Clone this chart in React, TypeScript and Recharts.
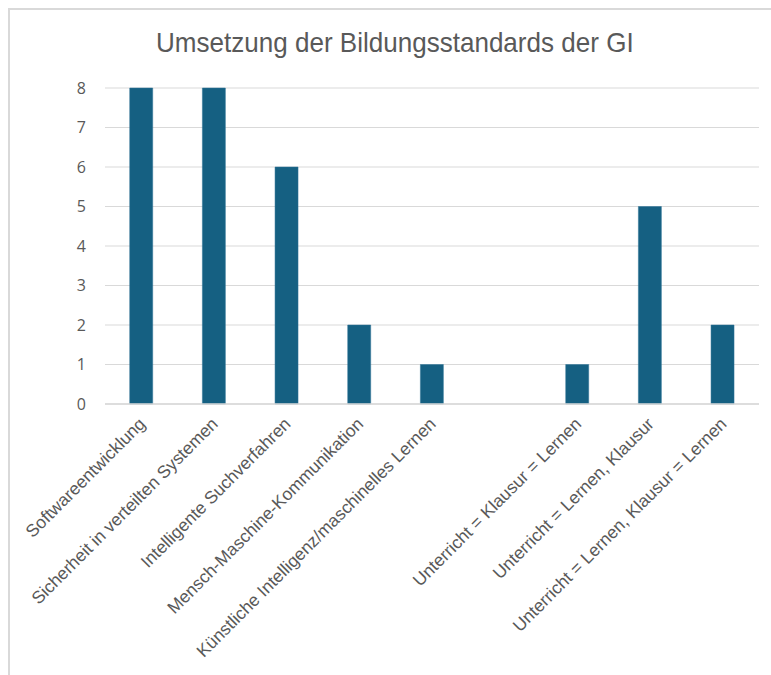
import React from 'react';
import { BarChart, Bar, XAxis, YAxis, CartesianGrid } from 'recharts';

const categories = [
  'Softwareentwicklung',
  'Sicherheit in verteilten Systemen',
  'Intelligente Suchverfahren',
  'Mensch-Maschine-Kommunikation',
  'Künstliche Intelligenz/maschinelles Lernen',
  '',
  'Unterricht = Klausur = Lernen',
  'Unterricht = Lernen, Klausur',
  'Unterricht = Lernen, Klausur = Lernen',
];
const values: (number | null)[] = [8, 8, 6, 2, 1, null, 1, 5, 2];
const yTicks = [0, 1, 2, 3, 4, 5, 6, 7, 8];
const title = 'Umsetzung der Bildungsstandards der GI';

const data = categories.map((c, i) => ({ key: `c${i}`, label: c, value: values[i] }));

const FONT = "'Liberation Sans', Arial, sans-serif";

const XTick = (props: any) => {
  const { x, y, payload } = props;
  const idx = data.findIndex((d) => d.key === payload.value);
  const label = idx >= 0 ? data[idx].label : '';
  return (
    <g transform={`translate(${x + 5},${y + 13})`}>
      <text
        x={0}
        y={0}
        textAnchor="end"
        transform="rotate(-45)"
        fill="#595959"
        fontSize={17.5}
        fontFamily={FONT}
      >
        {label}
      </text>
    </g>
  );
};

export default function App() {
  return (
    <div style={{ position: 'fixed', left: 0, top: 0, width: 771, height: 675, overflow: 'hidden', background: '#fff' }}>
      <div
        style={{
          position: 'absolute',
          left: 8,
          top: 8,
          width: 800,
          height: 700,
          border: '2px solid #d9d9d9',
          boxSizing: 'border-box',
        }}
      />
      <div
        style={{
          position: 'absolute',
          left: 0,
          top: 23,
          width: 790,
          textAlign: 'center',
        }}
      >
        <span
          style={{
            display: 'inline-block',
            fontFamily: "'Liberation Sans', Arial, sans-serif",
            fontSize: 28,
            color: '#595959',
            lineHeight: '40px',
            transform: 'scaleX(0.93)',
            transformOrigin: 'center',
          }}
        >
          {title}
        </span>
      </div>
      <div style={{ position: 'absolute', left: 0, top: 0 }}>
        <BarChart
          width={771}
          height={675}
          data={data}
          margin={{ top: 88, right: 12, left: 45, bottom: 21 }}
          barCategoryGap="34%"
        >
          <CartesianGrid vertical={false} stroke="#d9d9d9" strokeWidth={1} />
          <XAxis
            dataKey="key"
            interval={0}
            tick={<XTick />}
            tickLine={false}
            axisLine={{ stroke: '#d9d9d9', strokeWidth: 1.5 }}
            height={250}
          />
          <YAxis
            domain={[0, 8]}
            ticks={yTicks}
            width={60}
            tickLine={false}
            axisLine={false}
            tickMargin={13}
            tick={{ fill: '#595959', fontSize: 16, fontFamily: "'Open Sans', sans-serif" }}
          />
          <Bar dataKey="value" fill="#156082" stroke="#2f7396" strokeWidth={0.5} isAnimationActive={false} />
        </BarChart>
      </div>
    </div>
  );
}
